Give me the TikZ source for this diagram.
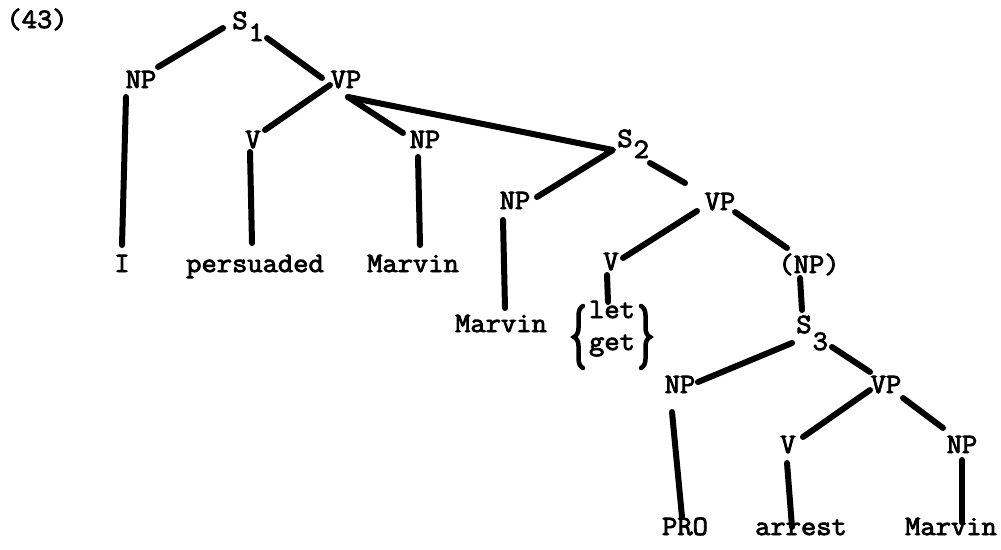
\documentclass[tikz,border=0pt]{standalone}
\usepackage{fontspec}
\newfontfamily\tw{Latin Modern Mono}[FakeStretch=1.06, FakeBold=3]
\usetikzlibrary{calc,decorations.pathreplacing}
\newcommand\Ssub[2]{S\rlap{\kern1pt\raisebox{-#2pt}{#1}}}
\tikzset{
  lab/.style={anchor=base, inner sep=0pt, font=\tw\fontsize{28}{33}\selectfont},
  edge/.style={line width=6pt, line cap=round},
  brc/.style={line width=4.5pt, line cap=round, decorate, decoration={brace, amplitude=9pt}}
}
\begin{document}
\begin{tikzpicture}[x=1pt,y=-1pt]
\useasboundingbox (0,0) rectangle (1001,549);
\node[lab] (ex) at (37,28) {(43)};
\node[lab] (s1) at (240,29) {\Ssub{1}{12}};
\node[lab] (npa) at (141,88) {NP};
\node[lab] (vpa) at (346,88) {VP};
\node[lab] (i) at (122,272) {I};
\node[lab] (va) at (253,148) {V};
\node[lab] (npb) at (425,148) {NP};
\node[lab] (pers) at (255,272) {persuaded};
\node[lab] (marva) at (413,272) {Marvin};
\node[lab] (s2) at (625,147) {\Ssub{2}{11}};
\node[lab] (npc) at (515,209) {NP};
\node[lab] (vpb) at (720,210) {VP};
\node[lab] (marvb) at (501,332) {Marvin};
\node[lab] (vb) at (611,270) {V};
\node[lab] (npp) at (809,273) {(NP)};
\node[lab] (let) at (612,318) {let};
\node[lab] (get) at (612,350) {get};
\node[lab] (s3) at (804,333) {\Ssub{3}{17}};
\node[lab] (npd) at (680,393) {NP};
\node[lab] (vpc) at (886,393) {VP};
\node[lab] (vc) at (788,453) {V};
\node[lab] (npe) at (962,453) {NP};
\node[lab] (pro) at (685,535) {PRO};
\node[lab] (arr) at (801,535) {arrest};
\node[lab] (marvc) at (951,535) {Marvin};
% braces
\draw[brc] ($(get.base)+(-29,18)$) -- ($(let.base)+(-29,-12)$);
\draw[brc] ($(let.base)+(29,-12)$) -- ($(get.base)+(29,18)$);
% edges
\draw[edge] ($(s1.base)+(-17,-1)$) -- ($(npa.base)+(17,-21)$);
\draw[edge] ($(s1.base)+(27,9)$) -- ($(vpa.base)+(-24,-10)$);
\draw[edge] ($(npa.base)+(-15,9)$) -- ($(i.base)+(0,-27)$);
\draw[edge] ($(vpa.base)+(-16,-3)$) -- ($(va.base)+(12,-18)$);
\draw[edge] ($(vpa.base)+(2,9)$) -- ($(npb.base)+(-22,-15)$);
\draw[edge, line join=round] ($(vpa.base)+(2,9)$) -- ($(s2.base)+(-12,3)$) -- ($(npc.base)+(22,-12)$);
\draw[edge] ($(s2.base)+(25,16)$) -- ($(vpb.base)+(-35,-27)$);
\draw[edge] ($(va.base)+(-3,4)$) -- ($(pers.base)+(-3,-29)$);
\draw[edge] ($(npb.base)+(-7,9)$) -- ($(marva.base)+(7,-27)$);
\draw[edge] ($(npc.base)+(-12,11)$) -- ($(marvb.base)+(4,-24)$);
\draw[edge] ($(vpb.base)+(-23,1)$) -- ($(vb.base)+(12,-12)$);
\draw[edge] ($(vpb.base)+(15,2)$) -- ($(npp.base)+(-22,-25)$);
\draw[edge] ($(vb.base)+(-4,5)$) -- ($(let.base)+(-4,-16)$);
\draw[edge] ($(npp.base)+(-9,5)$) -- ($(s3.base)+(-2,-23)$);
\draw[edge] ($(s3.base)+(-12,10)$) -- ($(npd.base)+(18,-11)$);
\draw[edge] ($(s3.base)+(28,14)$) -- ($(vpc.base)+(-16,-21)$);
\draw[edge] ($(npd.base)+(-8,19)$) -- ($(pro.base)+(-3,-18)$);
\draw[edge] ($(vpc.base)+(-16,-3)$) -- ($(vc.base)+(15,-16)$);
\draw[edge] ($(vpc.base)+(17,5)$) -- ($(npe.base)+(-19,-25)$);
\draw[edge] ($(vc.base)+(-1,10)$) -- ($(arr.base)+(-9,-8)$);
\draw[edge] ($(npe.base)+(0,7)$) -- ($(marvc.base)+(11,-13)$);
\end{tikzpicture}
\end{document}
